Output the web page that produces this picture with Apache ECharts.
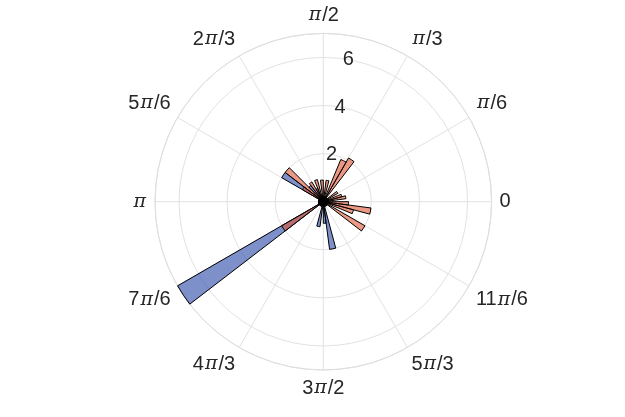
<!DOCTYPE html>
<html>
<head>
<meta charset="utf-8">
<script src="https://cdn.jsdelivr.net/npm/echarts@6/dist/echarts.min.js"></script>
<style>
html,body{margin:0;padding:0;background:#fff;}
#c{width:625px;height:417px;}
</style>
</head>
<body>
<div id="c"></div>
<script>
// Bin start angles (degrees), 48 bins of 7.5 deg
var binStarts = ['0','7.5','15','22.5','30','37.5','45','52.5','60','67.5','75','82.5',
  '90','97.5','105','112.5','120','127.5','135','142.5','150','157.5','165','172.5',
  '180','187.5','195','202.5','210','217.5','225','232.5','240','247.5','255','262.5',
  '270','277.5','285','292.5','300','307.5','315','322.5','330','337.5','345','352.5'];
// Series 1 (blue) values per bin
var blueVals = [0.2,0.2,0.2,0.2,0.2,0.2,0.2,0.2,0.2,0.2,0.2,0.2,
  0.2,0.2,0.2,0.6,0.2,0.85,0.2,2.0,0.2,0.2,0.2,0.2,
  0.2,0.2,0.2,0.2,7.0,0.2,0.2,0.2,0.2,0.2,1.05,0.2,
  0.9,2.0,0.2,0.2,0.2,0.2,0.2,0.2,0.2,0.2,0.2,0.2];
// Series 2 (salmon) values per bin
var salmonVals = [0.2,0.95,0.8,0.2,0.7,0.2,0.2,2.1,1.9,0.2,0.9,0.2,
  0.9,0.2,0.95,0.2,0.95,0.2,2.0,1.0,0.2,0.2,0.2,0.2,
  0.2,0.2,0.2,0.2,2.0,0.2,0.2,0.2,0.2,0.2,0.2,0.2,
  0.2,0.2,0.2,0.2,0.2,0.2,0.2,2.0,0.2,1.3,2.0,1.05];
// Angle tick labels (every 30 deg)
var angleTicks = [0,30,60,90,120,150,180,210,240,270,300,330];
var angleTickLabels = ['0','π/6','π/3','π/2','2π/3','5π/6','π','7π/6','4π/3','3π/2','5π/3','11π/6'];
// Radius tick labels
var rTicks = [2,4,6];
var rMax = 7;

var chart = echarts.init(document.getElementById('c'), null, {renderer:'canvas'});
var FONT = 'Liberation Sans, Arial, Helvetica, sans-serif';
var CENTER = [323.3, 201.7];
var RADIUS = 168.3;

function toNull(v){ return v === 0 ? '-' : v; }

function fmtAngle(v){
  var i = angleTicks.indexOf(v);
  if (i < 0) return '';
  var s = angleTickLabels[i];
  var k = s.indexOf('π');
  if (k < 0) return '{n|' + s + '}';
  var out = '';
  if (k > 0) out += '{n|' + s.slice(0,k) + '}';
  out += '{p|π}';
  if (k < s.length-1) out += '{n|' + s.slice(k+1) + '}';
  return out;
}

var option = {
  backgroundColor: '#ffffff',
  animation: false,
  polar: [
    {center: CENTER, radius: RADIUS},
    {center: CENTER, radius: RADIUS},
    {center: CENTER, radius: RADIUS}
  ],
  angleAxis: [
    { polarIndex: 0, type: 'category', data: binStarts, startAngle: 0, clockwise: false,
      axisLine:{show:false}, axisTick:{show:false}, axisLabel:{show:false}, splitLine:{show:false}, z: 1 },
    { polarIndex: 1, type: 'value', min: 0, max: 360, interval: 30, startAngle: 0, clockwise: false,
      axisLine:{show:true, lineStyle:{color:'#dedede', width:1}},
      axisTick:{show:false},
      splitLine:{show:true, lineStyle:{color:'#e2e2e2', width:1}},
      axisLabel:{show:true, margin: 8, formatter: fmtAngle,
        rich:{
          n:{fontFamily: FONT, fontSize: 20, color:'#262626'},
          p:{fontFamily: 'DejaVu Serif, Liberation Serif, serif', fontStyle:'italic', fontSize: 19, color:'#262626', padding:[0,1,0,1]}
        }},
      z: 0 },
    { polarIndex: 2, type: 'value', min: 0, max: 360, startAngle: 80, clockwise: false, show: false }
  ],
  radiusAxis: [
    { polarIndex: 0, type: 'value', min: 0, max: rMax, show: false },
    { polarIndex: 1, type: 'value', min: 0, max: rMax, interval: 2,
      axisLine:{show:false}, axisTick:{show:false}, axisLabel:{show:false},
      splitLine:{show:true, lineStyle:{color:'#e2e2e2', width:1}}, z: 0 },
    { polarIndex: 2, type: 'value', min: 0, max: rMax, interval: 2,
      axisLine:{show:false}, axisTick:{show:false}, splitLine:{show:false},
      axisLabel:{show:true, margin: 0, align:'center', verticalAlign:'middle',
        fontFamily: FONT, fontSize: 20, color:'#262626',
        formatter: function(v){ return rTicks.indexOf(v) >= 0 ? String(v) : ''; }},
      z: 3 }
  ],
  series: [
    { type:'bar', coordinateSystem:'polar', polarIndex:0, name:'A',
      data: blueVals.map(toNull), barGap:'-100%', barCategoryGap:'0%',
      itemStyle:{color:'rgba(40,70,165,0.6)', borderColor:'#000', borderWidth:1}, z: 2 },
    { type:'bar', coordinateSystem:'polar', polarIndex:0, name:'B',
      data: salmonVals.map(toNull), barGap:'-100%', barCategoryGap:'0%',
      itemStyle:{color:'rgba(222,85,52,0.6)', borderColor:'#000', borderWidth:1}, z: 2 }
  ]
};
chart.setOption(option);
</script>
</body>
</html>
